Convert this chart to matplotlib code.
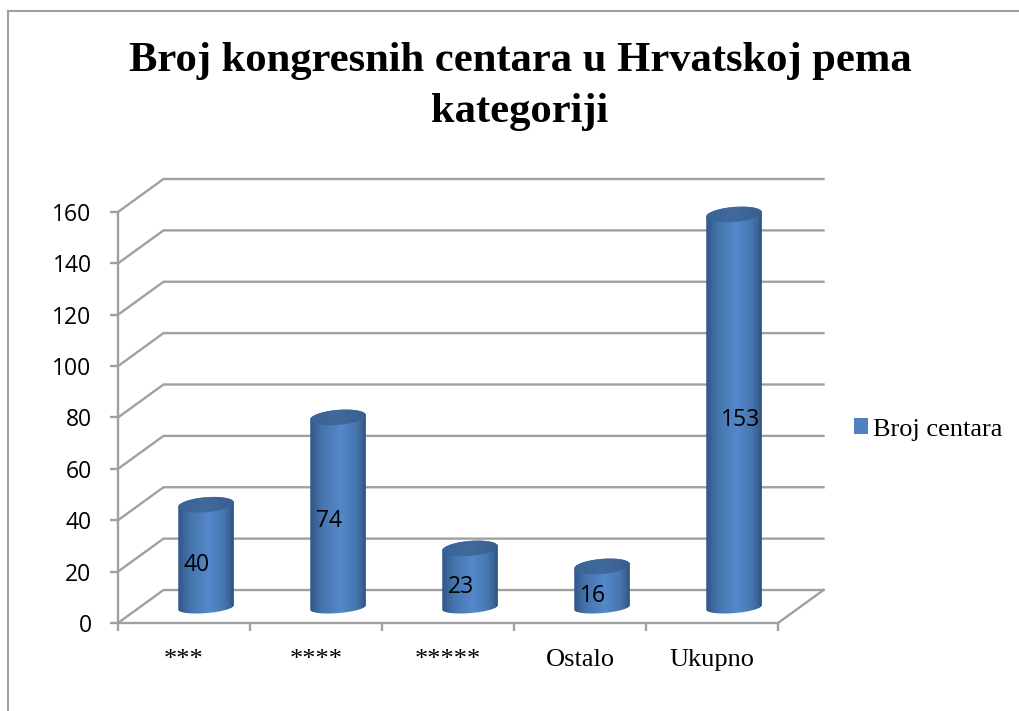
import numpy as np
import matplotlib
matplotlib.use("Agg")
import matplotlib.pyplot as plt
from matplotlib.colors import LinearSegmentedColormap
from matplotlib.lines import Line2D
from matplotlib.patches import Patch, Polygon

categories = ["***", "****", "*****", "Ostalo", "Ukupno"]
values = [40, 74, 23, 16, 153]
y_ticks = [0, 20, 40, 60, 80, 100, 120, 140, 160]
series_name = "Broj centara"
title = "Broj kongresnih centara u Hrvatskoj pema\nkategoriji"

W, H = 1019, 711
GRAY = "#a0a0a0"
SERIF = "Liberation Serif"
SANS = "Open Sans"
fig = plt.figure(figsize=(W / 100, H / 100), dpi=100, facecolor="white")
ax = fig.add_axes([118 / W, (H - 623) / H, 660 / W, 411 / H])
px_x = 132.0          # pixels per category
px_y = 411 / 160      # pixels per value unit
depth_x = 45.5 / px_x
depth_y = 33 / px_y

# walls and floor
for t in y_ticks:
    ax.plot([0, depth_x, 5 + depth_x], [t, t + depth_y, t + depth_y], color=GRAY, lw=1.7,
            clip_on=False, zorder=1, solid_joinstyle="miter")
ax.plot([5, 5 + depth_x], [0, depth_y], color=GRAY, lw=1.7, clip_on=False, zorder=1)

body_cmap = LinearSegmentedColormap.from_list("body", [
    (0, "#315686"), (0.22, "#4675ad"), (0.55, "#5488ca"), (0.8, "#4878b3"),
    (0.93, "#3c6496"), (1, "#2e4f78")])
cap_cmap = LinearSegmentedColormap.from_list("cap", ["#3a6496", "#41699b", "#395f90"])
grad = np.linspace(0, 1, 256).reshape(1, -1)

semi_a = 27.8 / px_x
semi_top = 7.5 / px_y
semi_base = 5.6 / px_y
tilt = 2.2 / px_y
base = 15.5 / px_y


def arc(cx, cy, semi_b, t0, t1):
    t = np.linspace(t0, t1, 80)
    return np.column_stack([cx + semi_a * np.cos(t), cy + semi_b * np.sin(t) + tilt * np.cos(t)])


offsets_px = [13, 13, 13, 13, 29]
for i, v in enumerate(values):
    cx = i + 0.5 + depth_x / 2 - 0.7 / px_x
    top = base + v
    body = Polygon(np.vstack([arc(cx, base, semi_base, np.pi, 2 * np.pi),
                              arc(cx, top, semi_top, 0, np.pi)]),
                   closed=True, facecolor="none", edgecolor="none", transform=ax.transData,
                   clip_on=False)
    ax.add_patch(body)
    im = ax.imshow(grad, cmap=body_cmap, aspect="auto", zorder=3,
                   extent=[cx - semi_a, cx + semi_a, base - semi_base - tilt, top + semi_top + tilt])
    im.set_clip_box(fig.bbox)
    im.set_clip_path(body)
    cap = Polygon(arc(cx, top, semi_top, 0, 2 * np.pi), closed=True, facecolor="none",
                  edgecolor="none", transform=ax.transData, clip_on=False)
    ax.add_patch(cap)
    im2 = ax.imshow(grad, cmap=cap_cmap, aspect="auto", zorder=4,
                    extent=[cx - semi_a, cx + semi_a, top - semi_top - tilt, top + semi_top + tilt])
    im2.set_clip_box(fig.bbox)
    im2.set_clip_path(cap)
    ax.annotate(str(v), (i, v / 2), xytext=(offsets_px[i] * 0.72 + 47.5, 2.6 * px_y * 0.72),
                textcoords="offset points", ha="center", va="center", family=SANS,
                fontsize=16.5, color="black", zorder=6, annotation_clip=False)

ax.set_xlim(0, 5)
ax.set_ylim(0, 160)
ax.patch.set_visible(False)
for s in ("top", "right"):
    ax.spines[s].set_visible(False)
for s in ("left", "bottom"):
    ax.spines[s].set_color(GRAY)
    ax.spines[s].set_linewidth(1.7)
    ax.spines[s].set_zorder(2)
ax.set_yticks(y_ticks)
ax.set_xticks(np.arange(6))
ax.set_xticklabels([])
ax.set_xticks(np.arange(5) + 0.5, minor=True)
ax.set_xticklabels(categories, minor=True, family=SERIF, fontsize=19)
ax.tick_params(axis="x", which="minor", length=0, pad=18.7)
ax.tick_params(axis="x", which="major", length=6, width=1.7, color=GRAY)
ax.tick_params(axis="y", length=6, width=1.7, color=GRAY, pad=13, labelsize=16.5)
for lab in ax.get_yticklabels():
    lab.set_family(SANS)

fig.text(520 / W, 1 - 86.5 / H, title, ha="center", va="center", family=SERIF, weight="bold",
         fontsize=30.7, linespacing=1.45, color="black")

fig.legend(handles=[Patch(facecolor="#4f81bd", edgecolor="none", label=series_name)],
           loc="center left", bbox_to_anchor=(853.5 / W, 1 - 429.5 / H), frameon=False,
           prop={"family": SERIF, "size": 19}, handlelength=0.55, handleheight=0.55,
           handletextpad=0.2, borderpad=0, borderaxespad=0)

fig.add_artist(Line2D([8 / W, 1, ], [1 - 11 / H, 1 - 11 / H], color=GRAY, lw=1.5))
fig.add_artist(Line2D([8 / W, 8 / W], [0, 1 - 11 / H], color=GRAY, lw=1.5))

fig.savefig("out.png", dpi=100)
